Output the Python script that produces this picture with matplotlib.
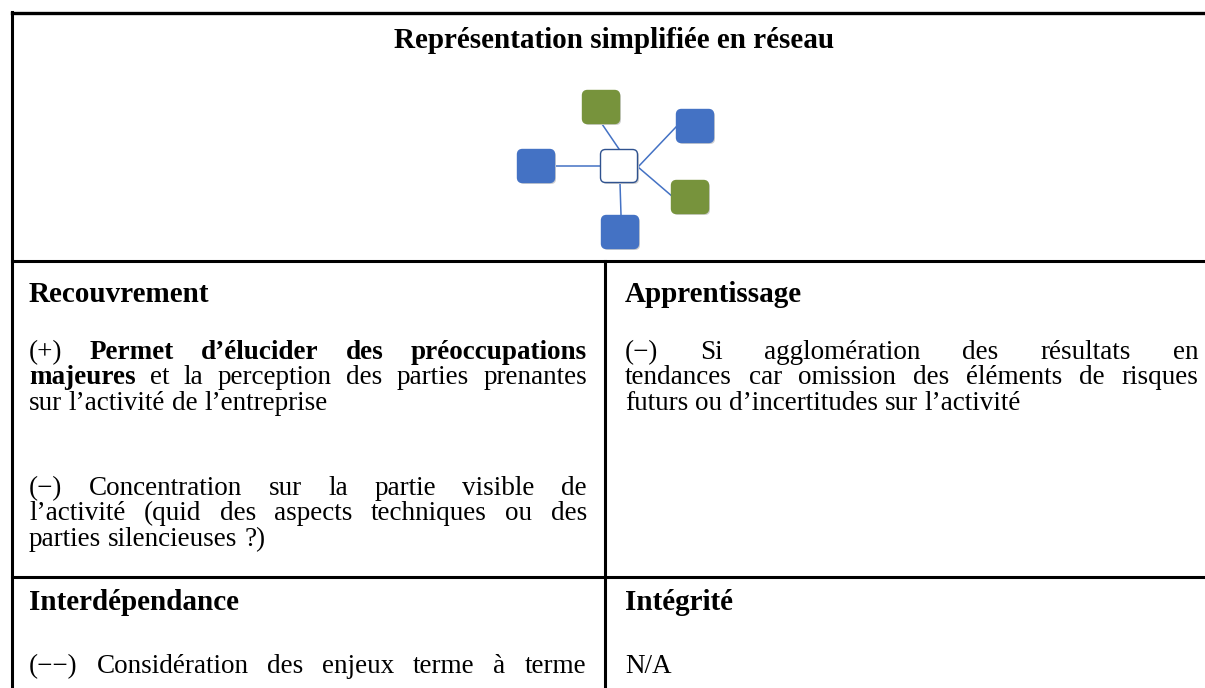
import matplotlib.pyplot as plt
from matplotlib.patches import FancyBboxPatch

plt.rcParams['font.family'] = ['Liberation Serif', 'DejaVu Serif']

# ---- content ----
title = "Représentation simplifiée en réseau"
headers = ["Recouvrement", "Apprentissage", "Interdépendance", "Intégrité"]

# lines of each paragraph; **...** marks bold words; True = justified line
recouvrement_pos = [("(+) **Permet d’élucider des préoccupations**", True),
                    ("**majeures** et la perception des parties prenantes", True),
                    ("sur l’activité de l’entreprise", False)]
recouvrement_neg = [("(−) Concentration sur la partie visible de", True),
                    ("l’activité (quid des aspects techniques ou des", True),
                    ("parties silencieuses ?)", False)]
apprentissage = [("(−) Si agglomération des résultats en", True),
                 ("tendances car omission des éléments de risques", True),
                 ("futurs ou d’incertitudes sur l’activité", False)]
interdependance = [("(−−) Considération des enjeux terme à terme", True)]
integrite = [("N/A", False)]

# network: node centres and colours
node_xy = [(619, 166), (601, 107), (695, 126), (536, 166), (690, 197), (620, 232)]
node_col = ["white", "#77933C", "#4472C4", "#4472C4", "#77933C", "#4472C4"]
edges = [((602, 124), (619, 149)), ((601, 166), (555, 166)),
         ((638, 167), (676, 127)), ((638, 167), (673, 197)),
         ((620, 183), (621, 215))]

FS = 19.5      # body text
FSB = 21       # bold headings
W, H = 1205, 688

fig = plt.figure(figsize=(W / 100, H / 100), dpi=100)
ax = fig.add_axes([0, 0, 1, 1])
ax.set_xlim(0, W)
ax.set_ylim(H, 0)
ax.axis('off')
renderer = fig.canvas.get_renderer()

# table lines
lw = 2.2
ax.plot([12, W + 5], [12.5, 12.5], color='black', lw=2.4)
ax.plot([12, 12], [12, H], color='black', lw=lw)
ax.plot([12, W + 5], [261, 261], color='black', lw=lw)
ax.plot([12, W + 5], [577, 577], color='black', lw=lw)
ax.plot([605, 605], [261, H], color='black', lw=lw)

# network diagram
for (p, q) in edges:
    ax.plot([p[0], q[0]], [p[1], q[1]], color='#4472C4', lw=1.1, zorder=2)
bw, bh = 37, 33
for (cx, cy), c in zip(node_xy, node_col):
    shadow = FancyBboxPatch((cx - bw / 2 + 1.5, cy - bh / 2 + 1.5), bw, bh,
                            boxstyle="round,pad=0,rounding_size=5",
                            fc='#d0d0d0', ec='none', zorder=2.5)
    ax.add_patch(shadow)
    ec = '#2F528F' if c == 'white' else c
    box = FancyBboxPatch((cx - bw / 2, cy - bh / 2), bw, bh,
                         boxstyle="round,pad=0,rounding_size=5",
                         fc=c, ec=ec, lw=1.0, zorder=3)
    ax.add_patch(box)

ax.text(614, 48, title, fontsize=FSB, fontweight='bold', ha='center', va='baseline')


def tokens(line):
    out, bold = [], False
    for w in line.split(' '):
        b = bold
        if w.startswith('**'):
            b = True
            w = w[2:]
            bold = True
        if w.endswith('**'):
            w = w[:-2]
            bold = False
        out.append((w, b))
    return out


def width_of(s):
    t = ax.text(0, 0, s, fontsize=FS)
    w = t.get_window_extent(renderer).width
    t.remove()
    return w


space_w = width_of("a a") - width_of("aa")


def draw_para(x0, y0, right, lines, step=25.5):
    for i, (line, justify) in enumerate(lines):
        toks = tokens(line)
        arts = [ax.text(x0, y0 + i * step, w, fontsize=FS,
                        fontweight='bold' if b else 'normal', va='baseline')
                for w, b in toks]
        widths = [a.get_window_extent(renderer).width for a in arts]
        gap = space_w
        if justify and len(toks) > 1:
            gap = max((right - x0 - sum(widths)) / (len(toks) - 1), space_w * 0.6)
        x = x0
        for a, w in zip(arts, widths):
            a.set_x(x)
            x += w + gap


for hx, hy, h in [(29, 302, headers[0]), (625, 302, headers[1]),
                  (29, 610, headers[2]), (625, 610, headers[3])]:
    ax.text(hx, hy, h, fontsize=FSB, fontweight='bold', va='baseline')

draw_para(29, 359, 587, recouvrement_pos)
draw_para(29, 495, 587, recouvrement_neg)
draw_para(625, 359, 1198, apprentissage)
draw_para(29, 673, 586, interdependance)
draw_para(625, 673, 1198, integrite)

fig.savefig("out.png", dpi=100)
